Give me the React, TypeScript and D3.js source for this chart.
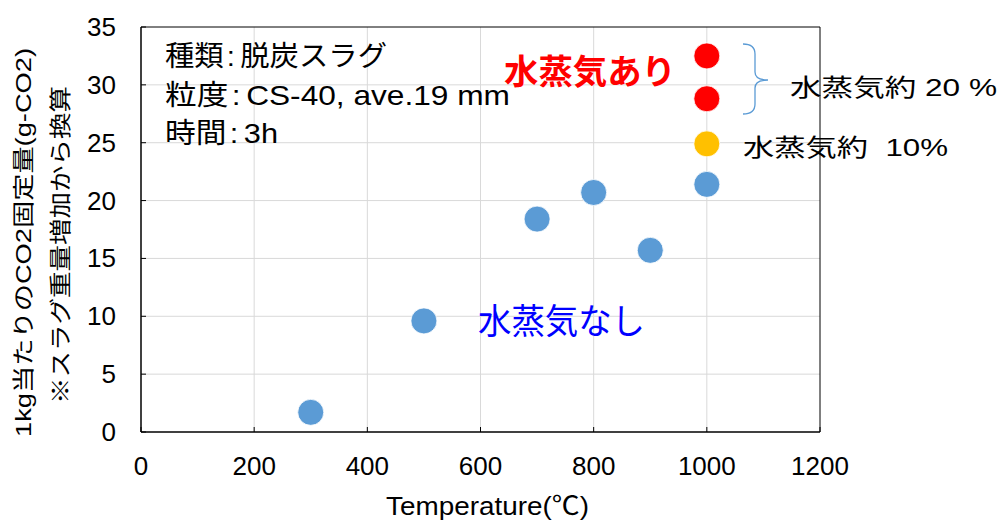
import React from "react";
import * as d3 from "d3";

const dryTemps = [300, 500, 700, 800, 900, 1000];
const dryValues = [1.7, 9.6, 18.4, 20.7, 15.7, 21.4];
const steam20Temps = [1000, 1000];
const steam20Values = [28.8, 32.5];
const steam10Temps = [1000];
const steam10Values = [24.9];
const xTicks = [0, 200, 400, 600, 800, 1000, 1200];
const yTicks = [0, 5, 10, 15, 20, 25, 30, 35];
const infoKeys = ["種類", "粒度", "時間"];
const infoValues = ["脱炭スラグ", "CS-40, ave.19 mm", "3h"];
const infoLengths = [222, 345, 113];

const W = 998;
const H = 521;
const M = { left: 141, right: 820, top: 27, bottom: 432 };
const FONT = '"Liberation Sans", Arial, "Noto Sans CJK JP", sans-serif';

export default function App() {
  const x = d3.scaleLinear().domain([0, 1200]).range([M.left, M.right]);
  const y = d3.scaleLinear().domain([0, 35]).range([M.bottom, M.top]);
  const r = 13;

  const pts = (xs: number[], ys: number[], color: string) =>
    xs.map((t, i) => (
      <circle key={color + i} cx={x(t)} cy={y(ys[i])} r={r} fill={color} stroke="#fff" strokeWidth={0.8} />
    ));

  return (
    <svg width={W} height={H} style={{ position: "absolute", left: 0, top: 0, background: "#fff" }}>
      <rect width={W} height={H} fill="#fff" />
      {/* grid */}
      {xTicks.slice(1, -1).map((t) => (
        <line key={"gx" + t} x1={x(t)} x2={x(t)} y1={M.top} y2={M.bottom} stroke="#d9d9d9" strokeWidth={1} />
      ))}
      {yTicks.slice(1, -1).map((t) => (
        <line key={"gy" + t} x1={M.left} x2={M.right} y1={y(t)} y2={y(t)} stroke="#d9d9d9" strokeWidth={1} />
      ))}
      {/* ticks */}
      {xTicks.map((t) => (
        <line key={"tx" + t} x1={x(t)} x2={x(t)} y1={M.bottom} y2={M.bottom - 5} stroke="#000" strokeWidth={1} />
      ))}
      {yTicks.map((t) => (
        <line key={"ty" + t} x1={M.left} x2={M.left + 5} y1={y(t)} y2={y(t)} stroke="#000" strokeWidth={1} />
      ))}
      {/* frame */}
      <line x1={M.left} x2={M.right} y1={M.top} y2={M.top} stroke="#000" strokeWidth={1} />
      <line x1={M.right} x2={M.right} y1={M.top} y2={M.bottom} stroke="#000" strokeWidth={1} />
      <line x1={M.left} x2={M.left} y1={M.top} y2={M.bottom} stroke="#000" strokeWidth={1.5} />
      <line x1={M.left} x2={M.right} y1={M.bottom} y2={M.bottom} stroke="#000" strokeWidth={1.5} />
      {/* tick labels */}
      {xTicks.map((t) => (
        <text key={"lx" + t} x={x(t)} y={M.bottom + 43} textAnchor="middle" fontFamily={FONT} fontSize={26} fill="#000">
          {t}
        </text>
      ))}
      {yTicks.map((t) => (
        <text key={"ly" + t} x={116} y={y(t) + 9} textAnchor="end" fontFamily={FONT} fontSize={26} fill="#000">
          {t}
        </text>
      ))}
      {/* axis titles */}
      <text x={386} y={515} textLength={203} lengthAdjust="spacingAndGlyphs" fontFamily={FONT} fontSize={26} fill="#000">
        Temperature(℃)
      </text>
      <text
        transform="translate(31,437) rotate(-90)"
        textLength={389}
        lengthAdjust="spacingAndGlyphs"
        fontFamily={FONT}
        fontSize={22}
        fill="#000"
      >
        1kg当たりのCO2固定量(g-CO2)
      </text>
      <text
        transform="translate(68,404) rotate(-90)"
        textLength={318}
        lengthAdjust="spacingAndGlyphs"
        fontFamily={FONT}
        fontSize={22}
        fill="#000"
      >
        ※スラグ重量増加から換算
      </text>
      {/* info */}
      {infoKeys.map((k, i) => (
        <text
          key={"info" + i}
          x={165}
          y={66 + i * 38.5}
          textLength={infoLengths[i]}
          lengthAdjust="spacingAndGlyphs"
          fontFamily={FONT}
          fontSize={28}
          fill="#000"
        >
          <tspan>{k}</tspan>
          <tspan dx={3}>:</tspan>
          <tspan dx={5}>{infoValues[i]}</tspan>
        </text>
      ))}
      {/* points */}
      {pts(dryTemps, dryValues, "#5B9BD5")}
      {pts(steam20Temps, steam20Values, "#FF0000")}
      {pts(steam10Temps, steam10Values, "#FFC000")}
      {/* annotations */}
      <text x={504} y={84} textLength={172} lengthAdjust="spacingAndGlyphs" fontFamily={FONT} fontSize={34} fontWeight="bold" fill="#FF0000">
        水蒸気あり
      </text>
      <text x={478} y={334} textLength={167} lengthAdjust="spacingAndGlyphs" fontFamily={FONT} fontSize={35} fill="#0000FF">
        水蒸気なし
      </text>
      <path
        d="M743,44 Q755,44 755,54 L755,72 Q755,80 768,80 Q755,80 755,88 L755,104 Q755,114 743,114"
        fill="none"
        stroke="#5B9BD5"
        strokeWidth={1.3}
      />
      <text x={790} y={96} textLength={207} lengthAdjust="spacingAndGlyphs" fontFamily={FONT} fontSize={24} fill="#000" style={{ whiteSpace: "pre" }}>
        {"水蒸気約 20 %"}
      </text>
      <text x={743} y={156} textLength={205} lengthAdjust="spacingAndGlyphs" fontFamily={FONT} fontSize={24} fill="#000" style={{ whiteSpace: "pre" }}>
        {"水蒸気約  10%"}
      </text>
    </svg>
  );
}
